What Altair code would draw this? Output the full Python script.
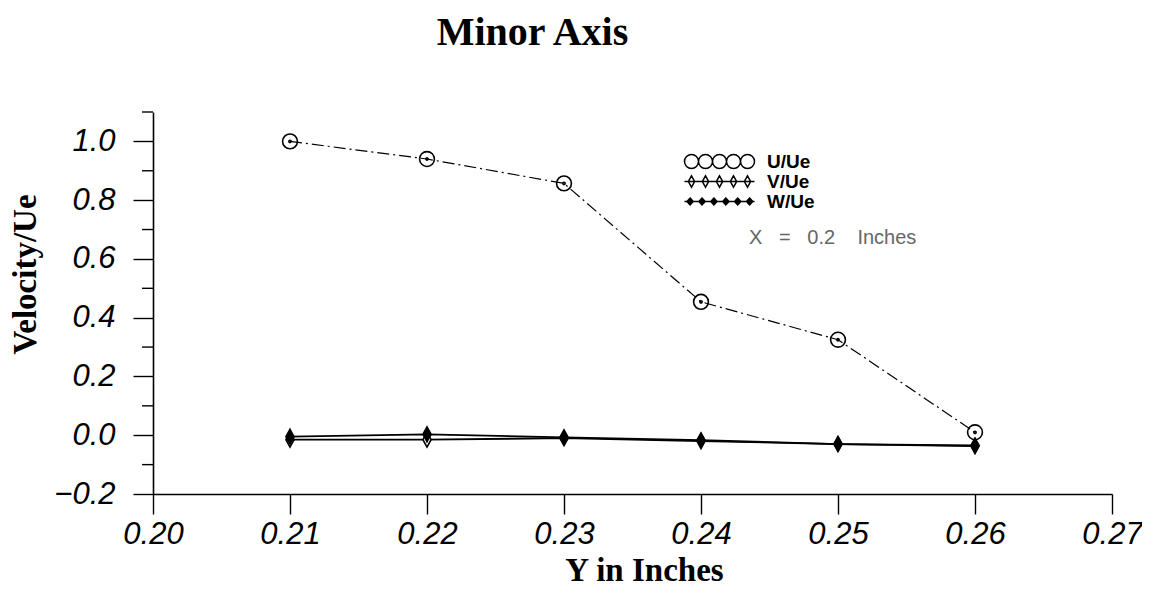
import altair as alt
import pandas as pd

y_in = [0.21, 0.22, 0.23, 0.24, 0.25, 0.26]
u_ue = [1.0, 0.94, 0.857, 0.454, 0.325, 0.01]
v_ue = [-0.015, -0.015, -0.01, -0.02, -0.03, -0.035]
w_ue = [-0.005, 0.003, -0.007, -0.017, -0.03, -0.037]
series_names = ["U/Ue", "V/Ue", "W/Ue"]
x_ticks = [0.20, 0.21, 0.22, 0.23, 0.24, 0.25, 0.26, 0.27]
y_major = [-0.2, 0.0, 0.2, 0.4, 0.6, 0.8, 1.0]
y_minor = [-0.1, 0.1, 0.3, 0.5, 0.7, 0.9, 1.1]
note_text = "X\u00a0\u00a0\u00a0=\u00a0\u00a0\u00a00.2\u00a0\u00a0\u00a0\u00a0Inches"

rows = []
for name, vals in zip(series_names, [u_ue, v_ue, w_ue]):
    for xv, yv in zip(y_in, vals):
        rows.append({"Y": xv, "V": yv, "Series": name, "Key": name})
df = pd.DataFrame(rows)
minor_df = pd.DataFrame({"m": y_minor})

def circ(cx, r):
    return f"M{cx - r},0A{r},{r} 0 1,0 {cx + r},0A{r},{r} 0 1,0 {cx - r},0Z"

def dia(cx, w, h):
    return f"M{cx},{-h}L{cx + w},0L{cx},{h}L{cx - w},0Z"

circ_dot = circ(0, 1) + circ(0, 0.15)
diamond = dia(0, 0.55, 1)
leg_u = "".join(circ(c, 1) for c in [-4, -2, 0, 2, 4])
leg_v = "M-5,0L5,0" + "".join(dia(c, 0.45, 0.8) for c in [-4, -2, 0, 2, 4])
leg_w = "M-5,0L5,0" + "".join(dia(c, 0.45, 0.5) for c in [-4.2, -2.5, -0.8, 0.9, 2.6, 4.3])

xs = alt.Scale(domain=[0.20, 0.27], nice=False, zero=False)
ys = alt.Scale(domain=[-0.2, 1.1], nice=False, zero=False)

lab = dict(labelFont="Liberation Sans", labelFontStyle="italic", labelFontSize=31,
           labelColor="black", domainColor="black", tickColor="black",
           titleFont="Liberation Serif", titleFontWeight="bold", titleFontSize=33,
           titleColor="black", grid=False, domainWidth=1.6, tickWidth=1.4,
           labelFlush=False)

x_enc = alt.X("Y:Q", scale=xs, axis=alt.Axis(values=x_ticks, format=".2f", tickSize=20,
              labelPadding=5, title="Y in Inches", titleX=491, titleY=76,
              titleBaseline="middle", **lab))
y_enc = alt.Y("V:Q", scale=ys, axis=alt.Axis(
    values=y_major, format=".1f", tickSize=20,
    labelPadding=18, title="Velocity/Ue", titleX=-128, titleY=162,
    titleBaseline="middle", **lab))

u_df = df[df.Series == "U/Ue"]
vw_df = df[df.Series != "U/Ue"]

line_u = alt.Chart(u_df).mark_line(color="black", strokeWidth=1.2,
                                   strokeDash=[12, 4, 2, 4]).encode(x=x_enc, y=y_enc)
line_vw = alt.Chart(vw_df).mark_line(color="black", strokeWidth=1.8).encode(
    x="Y:Q", y="V:Q", detail="Series:N")

minor_ticks = alt.Chart(minor_df).mark_rule(color="black", strokeWidth=1.4).encode(
    y="m:Q", x=alt.value(-11), x2=alt.value(0))

points = alt.Chart(df).mark_point(size=220, strokeWidth=1.6, opacity=1).encode(
    x="Y:Q", y="V:Q",
    shape=alt.Shape("Series:N", scale=alt.Scale(domain=series_names,
                    range=[circ_dot, diamond, diamond]), legend=None),
    fill=alt.Fill("Series:N", scale=alt.Scale(domain=series_names,
                  range=["transparent", "white", "black"]), legend=None),
    stroke=alt.value("black"),
)

legend_layer = alt.Chart(df).transform_filter("false").mark_point(
    size=196, strokeWidth=1.5, opacity=1).encode(
    x="Y:Q", y="V:Q",
    shape=alt.Shape("Key:N", scale=alt.Scale(domain=series_names,
                    range=[leg_u, leg_v, leg_w]),
                    legend=alt.Legend(title=None, orient="none", legendX=557, legendY=40,
                                      padding=0, labelFont="Liberation Sans",
                                      labelFontWeight="bold", labelFontSize=19,
                                      labelColor="black", symbolStrokeWidth=1.5,
                                      symbolSize=196, symbolOpacity=1,
                                      labelOffset=38)),
    fill=alt.Fill("Key:N", scale=alt.Scale(domain=series_names,
                  range=["transparent", "white", "black"])),
    stroke=alt.Stroke("Key:N", scale=alt.Scale(domain=series_names,
                      range=["black", "black", "black"])),
)

note = alt.Chart(pd.DataFrame({"t": [note_text]})).mark_text(
    align="left", baseline="middle", font="Liberation Sans", fontSize=20, color="#666"
).encode(x=alt.value(596), y=alt.value(126), text="t:N")

chart = alt.layer(line_u, line_vw, minor_ticks, points, legend_layer, note).resolve_scale(
    shape="independent", fill="independent", stroke="independent"
).properties(
    width=959, height=382,
    background="white",
    autosize=alt.AutoSizeParams(type="none"),
    padding={"left": 145, "top": 104, "right": 30, "bottom": 94},
    title=alt.TitleParams("Minor Axis", font="Liberation Serif", fontWeight="bold",
                          fontSize=40, color="black", offset=58, dx=-100, anchor="middle"),
).configure_view(stroke=None).configure_legend(rowPadding=-6)

chart.save("out.html", embed_options={"renderer": "svg", "actions": False})
